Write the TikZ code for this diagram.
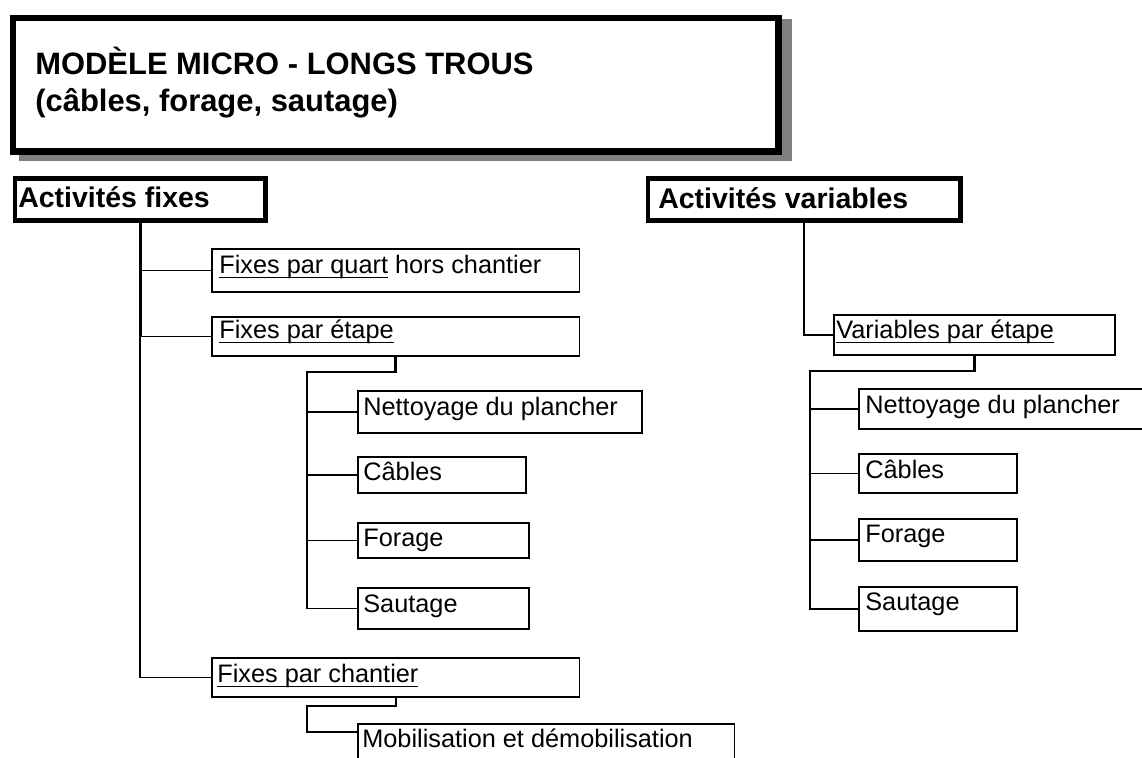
\documentclass[tikz,border=0pt]{standalone}
\usepackage{fontspec}
\setmainfont{Liberation Sans}
\newlength\pxu
\setlength\pxu{0.5669pt}
\newcommand\ulin[1]{\leavevmode\setbox0\hbox{#1}\rlap{\rule[-3.1pt]{\wd0}{1.1pt}}\box0\relax}
\newcommand\ftitle{\fontsize{17.6pt}{21pt}\selectfont\bfseries}
\newcommand\fhead{\fontsize{16.2pt}{19pt}\selectfont\bfseries}
\newcommand\freg{\fontsize{14.4pt}{17pt}\selectfont}
\definecolor{shadowgray}{RGB}{128,128,128}
\begin{document}
\begin{tikzpicture}[x=0.02cm,y=-0.02cm,
  boxbase/.style={anchor=north west, inner sep=0pt},
  cbox/.style={boxbase, draw, line width=1.1pt},
  hbox/.style={boxbase, draw, line width=2.8pt, fill=white},
  tbox/.style={boxbase, draw, line width=3.7pt, fill=white},
  sbox/.style={boxbase, fill=shadowgray},
  txt/.style={anchor=base west, inner sep=0pt, font=\freg},
  htxt/.style={anchor=base west, inner sep=0pt, font=\fhead},
  ttxt/.style={anchor=base west, inner sep=0pt, font=\ftitle},
  thinc/.style={line width=0.9pt},
  thickc/.style={line width=1.6pt}]
\clip (0,0) rectangle (1142,757);
\fill[white] (0,0) rectangle (1142,757);

% title
\node[sbox, minimum width=776\pxu, minimum height=142\pxu] (tsh) at (19,19) {};
\node[tbox, minimum width=769\pxu, minimum height=134\pxu] (tb) at (9.5,15) {};
\node[ttxt] (tl1) at (35,75) {MODÈLE MICRO - LONGS TROUS};
\node[ttxt] (tl2) at (35,112) {(câbles, forage, sautage)};

% heads
\node[hbox, minimum width=251.5\pxu, minimum height=42\pxu] (af) at (12.5,176) {};
\node[htxt] (aft) at (18,207) {Activités fixes};
\node[hbox, minimum width=313.5\pxu, minimum height=42\pxu] (av) at (645.5,176) {};
\node[htxt] (avt) at (658,208) {Activités variables};

% left column boxes
\node[cbox, minimum width=369\pxu, minimum height=43\pxu] (fpq) at (211,248) {};
\node[txt] (fpqt) at (219,273) {\ulin{Fixes par quart} hors chantier};
\node[cbox, minimum width=369\pxu, minimum height=39\pxu] (fpe) at (211,316) {};
\node[txt] (fpet) at (219,338) {\ulin{Fixes par étape}};
\node[cbox, minimum width=369\pxu, minimum height=39\pxu] (fpc) at (211,657) {};
\node[txt] (fpct) at (217,682) {\ulin{Fixes par chantier}};
\node[cbox, minimum width=378\pxu, minimum height=60\pxu] (mob) at (357,723) {};
\node[txt] (mobt) at (362,747) {Mobilisation et démobilisation};

\node[cbox, minimum width=285\pxu, minimum height=42\pxu] (nl) at (357,390) {};
\node[txt] (nlt) at (363,415) {Nettoyage du plancher};
\node[cbox, minimum width=169\pxu, minimum height=36\pxu] (cl) at (357,456) {};
\node[txt] (clt) at (363,480) {Câbles};
\node[cbox, minimum width=172\pxu, minimum height=35\pxu] (fl) at (357,522) {};
\node[txt] (flt) at (363,546) {Forage};
\node[cbox, minimum width=172\pxu, minimum height=41\pxu] (sl) at (357,587) {};
\node[txt] (slt) at (363,612) {Sautage};

% right column boxes
\node[cbox, minimum width=282\pxu, minimum height=40\pxu] (vpe) at (833,314) {};
\node[txt] (vpet) at (836,338) {\ulin{Variables par étape}};
\node[cbox, minimum width=300\pxu, minimum height=40\pxu] (nr) at (858,388) {};
\node[txt] (nrt) at (865,413) {Nettoyage du plancher};
\node[cbox, minimum width=159\pxu, minimum height=39\pxu] (cr) at (858,453) {};
\node[txt] (crt) at (865,478) {Câbles};
\node[cbox, minimum width=159\pxu, minimum height=42\pxu] (fr) at (858,518) {};
\node[txt] (frt) at (865,542) {Forage};
\node[cbox, minimum width=159\pxu, minimum height=44\pxu] (sr) at (858,586) {};
\node[txt] (srt) at (865,610) {Sautage};

% connectors, level 1 left
\draw[thickc] (af.south) -- (af.south |- fpe.west);
\draw[thinc] (af.south) |- (fpq.west);
\draw[thinc] (af.south) |- (fpe.west);
\draw[thinc] (af.south) |- (fpc.west);

% level 2 left
\coordinate (b1) at (307,372);
\draw[thickc] (fpe.south) |- (b1) -- (b1 |- fl.west);
\draw[thinc] (b1) |- (nl.west);
\draw[thinc] (b1) |- (cl.west);
\draw[thinc] (b1) |- (fl.west);
\draw[thinc] (b1) |- (sl.west);

\coordinate (b2) at (307,706);
\coordinate (mobin) at (357,732);
\draw[thinc] (fpc.south) |- (b2) |- (mobin);

% right
\draw[thinc] (av.south) |- (vpe.west);
\coordinate (b3) at (810,371);
\draw[thickc] (vpe.south) |- (b3) -- (b3 |- fr.west);
\draw[thinc] (b3) |- (nr.west);
\draw[thinc] (b3) |- (cr.west);
\draw[thinc] (b3) |- (fr.west);
\draw[thinc] (b3) |- (sr.west);
\end{tikzpicture}
\end{document}
